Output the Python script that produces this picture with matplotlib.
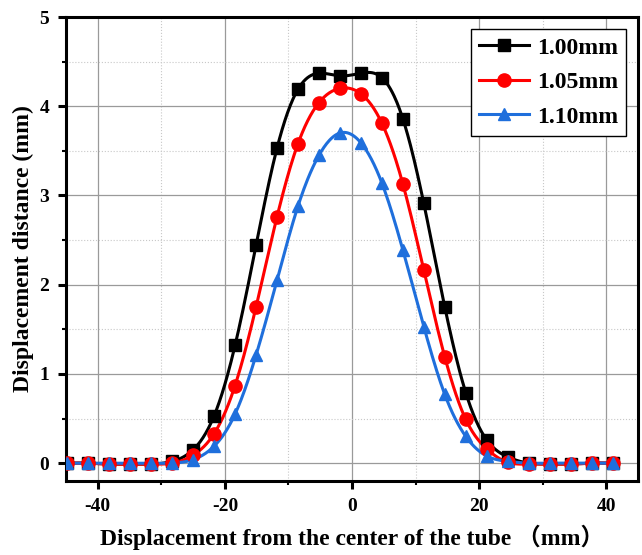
import numpy as np
import matplotlib
matplotlib.use("Agg")
import matplotlib.pyplot as plt
from matplotlib.ticker import MultipleLocator

plt.rcParams['font.family'] = ['Liberation Serif', 'Noto Sans CJK SC']
plt.rcParams['font.weight'] = 'bold'
plt.rcParams['axes.unicode_minus'] = False

# displacement from tube centre (mm)
x = [-44.8, -41.5, -38.2, -34.9, -31.6, -28.3, -25.0, -21.7, -18.4, -15.1,
     -11.8, -8.5, -5.2, -1.9, 1.4, 4.7, 8.0, 11.3, 14.6, 17.9,
     21.2, 24.5, 27.8, 31.1, 34.4, 37.7, 41.0]

y_100 = [0.0, 0.0, -0.01, -0.01, -0.01, 0.02, 0.15, 0.53, 1.32, 2.44,
         3.53, 4.19, 4.37, 4.34, 4.37, 4.32, 3.86, 2.91, 1.75, 0.79,
         0.26, 0.07, 0.0, -0.01, -0.01, 0.0, 0.0]
y_105 = [0.0, 0.0, -0.01, -0.01, -0.01, 0.0, 0.09, 0.33, 0.87, 1.75,
         2.76, 3.58, 4.04, 4.20, 4.14, 3.81, 3.13, 2.16, 1.19, 0.49,
         0.16, 0.01, -0.01, -0.01, -0.01, 0.0, 0.0]
y_110 = [0.0, 0.0, 0.0, 0.0, 0.0, 0.0, 0.04, 0.19, 0.55, 1.21,
         2.05, 2.88, 3.45, 3.70, 3.59, 3.14, 2.39, 1.53, 0.77, 0.30,
         0.08, 0.02, 0.0, 0.0, 0.0, 0.0, 0.0]

labels = ['1.00mm', '1.05mm', '1.10mm']
colors = ['black', '#ff0000', '#1f6fdc']
markers = ['s', 'o', '^']
msizes = [8, 9.5, 8.5]


def spline(xs, ys, n=600):
    # natural cubic spline, just for drawing a smooth connecting line
    xs = np.asarray(xs, float)
    ys = np.asarray(ys, float)
    m = len(xs)
    h = np.diff(xs)
    A = np.zeros((m, m))
    b = np.zeros(m)
    A[0, 0] = A[-1, -1] = 1
    for i in range(1, m - 1):
        A[i, i - 1] = h[i - 1]
        A[i, i] = 2 * (h[i - 1] + h[i])
        A[i, i + 1] = h[i]
        b[i] = 6 * ((ys[i + 1] - ys[i]) / h[i] - (ys[i] - ys[i - 1]) / h[i - 1])
    M = np.linalg.solve(A, b)
    xx = np.linspace(xs[0], xs[-1], n)
    k = np.clip(np.searchsorted(xs, xx) - 1, 0, m - 2)
    t0 = xs[k + 1] - xx
    t1 = xx - xs[k]
    hk = h[k]
    yy = (M[k] * t0 ** 3 / (6 * hk) + M[k + 1] * t1 ** 3 / (6 * hk)
          + (ys[k] / hk - M[k] * hk / 6) * t0
          + (ys[k + 1] / hk - M[k + 1] * hk / 6) * t1)
    return xx, yy


fig = plt.figure(figsize=(6.42, 5.55), dpi=100)
ax = fig.add_axes([66 / 642, 1 - 481 / 555, 572 / 642, 464 / 555])

for ys, lab, c, mk, ms in zip([y_100, y_105, y_110], labels, colors, markers, msizes):
    xx, yy = spline(x, ys)
    ax.plot(xx, yy, color=c, lw=2.2, zorder=3)
    ax.plot(x, ys, ls='none', marker=mk, ms=ms, color=c, zorder=4)
    ax.plot([], [], color=c, lw=2.2, marker=mk, ms=ms, label=lab)

ax.set_xlim(-45, 45)
ax.set_ylim(-0.2, 5)
ax.xaxis.set_major_locator(MultipleLocator(20))
ax.xaxis.set_minor_locator(MultipleLocator(10))
ax.yaxis.set_major_locator(MultipleLocator(1))
ax.yaxis.set_minor_locator(MultipleLocator(0.5))

ax.grid(which='major', color='#9a9a9a', lw=0.9, ls='-')
ax.grid(which='minor', color='#c8c8c8', lw=0.8, ls=':')
ax.set_axisbelow(True)

for sp in ax.spines.values():
    sp.set_linewidth(2.2)
ax.tick_params(which='major', direction='out', length=6, width=2.2, labelsize=14, pad=6)
ax.tick_params(which='minor', direction='out', length=3, width=1.5)
for lbl in ax.get_xticklabels() + ax.get_yticklabels():
    lbl.set_fontweight('bold')

ax.set_xlabel('Displacement from the center of the tube （mm）', fontsize=17, fontweight='bold', labelpad=7)
ax.set_ylabel('Displacement distance (mm)', fontsize=17, fontweight='bold', labelpad=4)

leg = ax.legend(loc='upper right', fontsize=17, frameon=True, fancybox=False,
                edgecolor='black', framealpha=1, borderpad=0.35, labelspacing=0.55,
                handlelength=2.1, handletextpad=0.35, borderaxespad=0.5)
leg.get_frame().set_linewidth(1.0)
for t in leg.get_texts():
    t.set_fontweight('bold')

fig.savefig('out.png', dpi=100)
